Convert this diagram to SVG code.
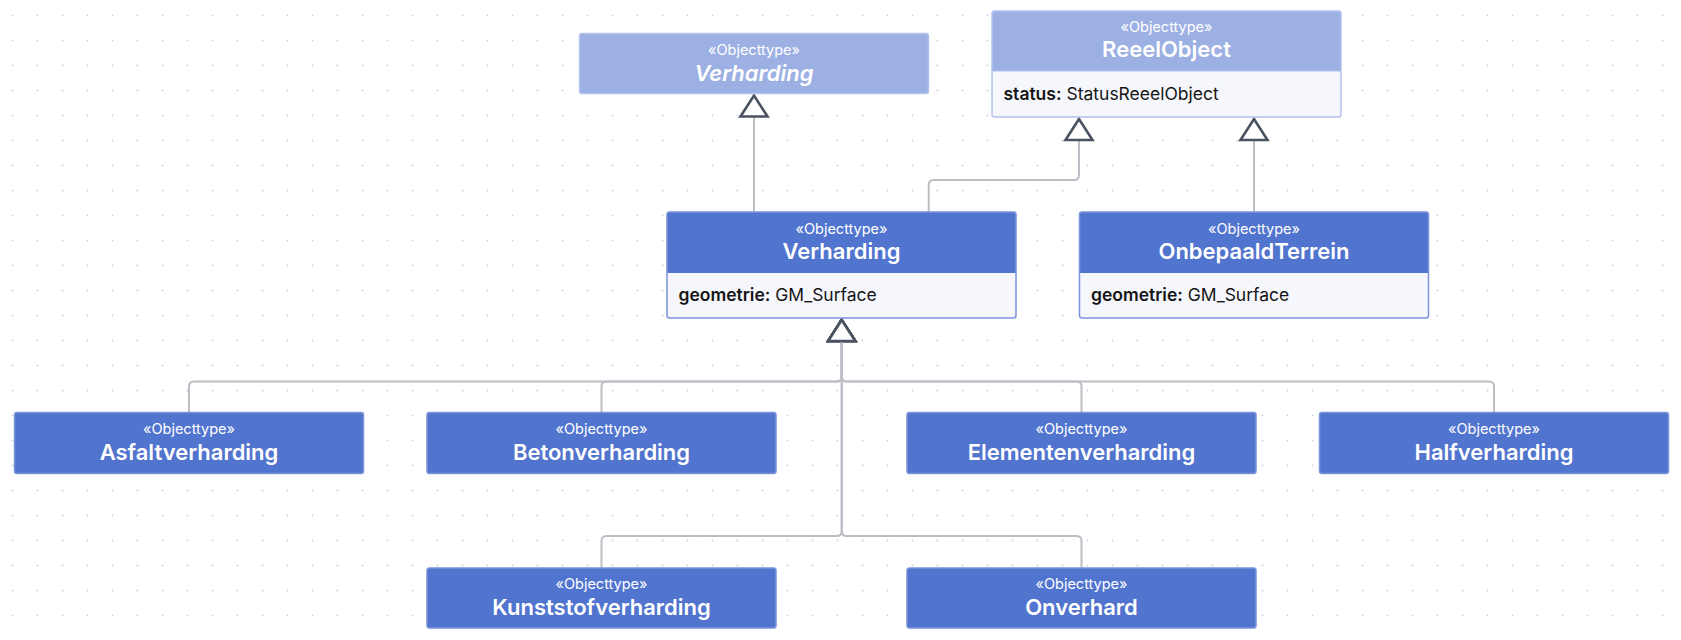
<svg xmlns="http://www.w3.org/2000/svg" width="1681" height="640" viewBox="0 0 1681 640">
<style>
.hd{fill:#5174CE;stroke:#7A93DB;stroke-width:1.5}
.hl{fill:#9DB0E3;stroke:#B3C2EC;stroke-width:1.5}
.at{fill:#F5F7FC}
.st{font-family:Inter,"Noto Sans",sans-serif;font-size:14.5px;fill:#ffffff;text-anchor:middle}
.nm{font-family:Inter,"Noto Sans",sans-serif;font-size:22px;font-weight:600;fill:#ffffff;text-anchor:middle}
.ab{font-style:italic}
.ar{font-family:Inter,"Noto Sans",sans-serif;font-size:17.5px;fill:#151515}
.ar tspan.k{font-weight:600}
.cn{fill:none;stroke:#BDBDC5;stroke-width:2;marker-end:url(#gen)}
</style>
<defs>
<pattern id="dots" width="25" height="25" patternUnits="userSpaceOnUse">
<circle cx="12.5" cy="15.5" r="0.9" fill="#C9CEDD"/>
</pattern>
<marker id="gen" viewBox="-24 -16 26 32" refX="0" refY="0" markerWidth="26" markerHeight="32" markerUnits="userSpaceOnUse" orient="auto">
<path d="M0 0 L-21 -13.5 L-21 13.5 Z" fill="#ffffff" stroke="#4B5261" stroke-width="2.6" stroke-linejoin="miter"/>
</marker>
</defs>
<rect width="1681" height="640" fill="#ffffff"/>
<rect width="1681" height="640" fill="url(#dots)"/>

<g id="connectors">
<path class="cn" d="M754 212 V95.5"/>
<path class="cn" d="M928.7 212 V185 Q928.7 180 933.7 180 H1074 Q1079 180 1079 175 V119"/>
<path class="cn" d="M1254 212 V119"/>
<path class="cn" d="M189 412.5 V386.5 Q189 381.5 194 381.5 H836.7 Q841.7 381.5 841.7 376.5 V320"/>
<path class="cn" d="M601.5 412.5 V386.5 Q601.5 381.5 606.5 381.5 H836.7 Q841.7 381.5 841.7 376.5 V320"/>
<path class="cn" d="M1081.5 412.5 V386.5 Q1081.5 381.5 1076.5 381.5 H846.7 Q841.7 381.5 841.7 376.5 V320"/>
<path class="cn" d="M1494 412.5 V386.5 Q1494 381.5 1489 381.5 H846.7 Q841.7 381.5 841.7 376.5 V320"/>
<path class="cn" d="M601.5 568 V541 Q601.5 536 606.5 536 H836.7 Q841.7 536 841.7 531 V320"/>
<path class="cn" d="M1081.5 568 V541 Q1081.5 536 1076.5 536 H846.7 Q841.7 536 841.7 531 V320"/>
</g>

<g id="node-verharding-abstract">
<rect class="hl" x="579.5" y="33.5" width="349" height="60" rx="2.5"/>
<text class="st" x="754" y="55">«Objecttype»</text>
<text class="nm ab" x="754" y="81">Verharding</text>
</g>

<g id="node-reeelobject">
<rect class="at" x="992" y="11" width="349" height="106" rx="2.5"/>
<path fill="#9DB0E3" d="M994.5 11 H1338.5 Q1341 11 1341 13.5 V71 H992 V13.5 Q992 11 994.5 11 Z"/>
<rect x="992" y="11" width="349" height="106" rx="2.5" fill="none" stroke="#B3C2EC" stroke-width="1.5"/>
<line x1="992" y1="71" x2="1341" y2="71" stroke="#B3C2EC" stroke-width="1"/>
<text class="st" x="1166.5" y="32">«Objecttype»</text>
<text class="nm" x="1166.5" y="57">ReeelObject</text>
<text class="ar" x="1003.5" y="100"><tspan class="k">status:</tspan> StatusReeelObject</text>
</g>

<g id="node-verharding">
<rect class="at" x="667" y="212" width="349" height="106" rx="2.5"/>
<path fill="#5174CE" d="M669.5 212 H1013.5 Q1016 212 1016 214.5 V273 H667 V214.5 Q667 212 669.5 212 Z"/>
<rect x="667" y="212" width="349" height="106" rx="2.5" fill="none" stroke="#7A93DB" stroke-width="1.5"/>
<text class="st" x="841.5" y="233.5">«Objecttype»</text>
<text class="nm" x="841.5" y="258.5">Verharding</text>
<text class="ar" x="678.5" y="301"><tspan class="k">geometrie:</tspan> GM_Surface</text>
</g>

<g id="node-onbepaaldterrein">
<rect class="at" x="1079.5" y="212" width="349" height="106" rx="2.5"/>
<path fill="#5174CE" d="M1082 212 H1426 Q1428.5 212 1428.5 214.5 V273 H1079.5 V214.5 Q1079.5 212 1082 212 Z"/>
<rect x="1079.5" y="212" width="349" height="106" rx="2.5" fill="none" stroke="#7A93DB" stroke-width="1.5"/>
<text class="st" x="1254" y="233.5">«Objecttype»</text>
<text class="nm" x="1254" y="258.5">OnbepaaldTerrein</text>
<text class="ar" x="1091" y="301"><tspan class="k">geometrie:</tspan> GM_Surface</text>
</g>

<g id="node-asfaltverharding">
<rect class="hd" x="14.5" y="412.5" width="349" height="61" rx="2.5"/>
<text class="st" x="189" y="434">«Objecttype»</text>
<text class="nm" x="189" y="460">Asfaltverharding</text>
</g>

<g id="node-betonverharding">
<rect class="hd" x="427" y="412.5" width="349" height="61" rx="2.5"/>
<text class="st" x="601.5" y="434">«Objecttype»</text>
<text class="nm" x="601.5" y="460">Betonverharding</text>
</g>

<g id="node-elementenverharding">
<rect class="hd" x="907" y="412.5" width="349" height="61" rx="2.5"/>
<text class="st" x="1081.5" y="434">«Objecttype»</text>
<text class="nm" x="1081.5" y="460">Elementenverharding</text>
</g>

<g id="node-halfverharding">
<rect class="hd" x="1319.5" y="412.5" width="349" height="61" rx="2.5"/>
<text class="st" x="1494" y="434">«Objecttype»</text>
<text class="nm" x="1494" y="460">Halfverharding</text>
</g>

<g id="node-kunststofverharding">
<rect class="hd" x="427" y="568" width="349" height="60" rx="2.5"/>
<text class="st" x="601.5" y="589">«Objecttype»</text>
<text class="nm" x="601.5" y="615">Kunststofverharding</text>
</g>

<g id="node-onverhard">
<rect class="hd" x="907" y="568" width="349" height="60" rx="2.5"/>
<text class="st" x="1081.5" y="589">«Objecttype»</text>
<text class="nm" x="1081.5" y="615">Onverhard</text>
</g>
</svg>
